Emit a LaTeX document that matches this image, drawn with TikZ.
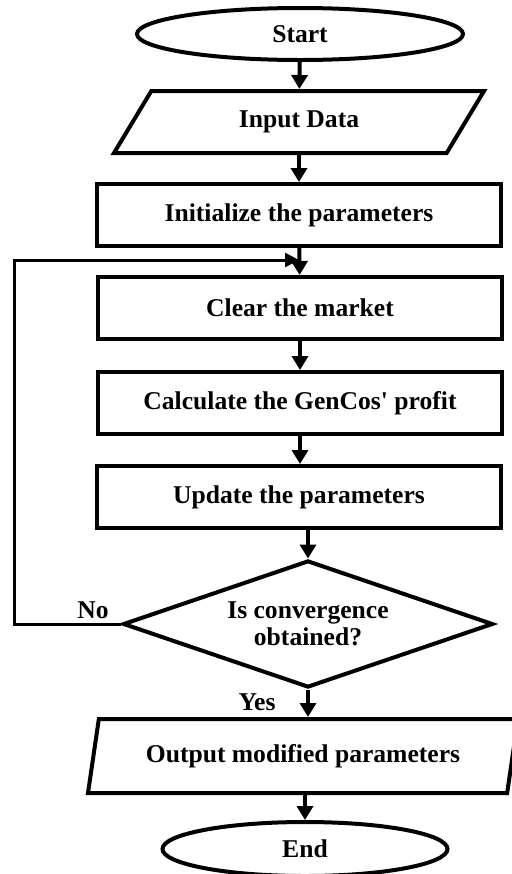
\documentclass[tikz,border=0pt]{standalone}
\usepackage{fontspec}
\setmainfont{Liberation Serif}
\usetikzlibrary{arrows.meta,shapes.geometric}

\begin{document}
\begin{tikzpicture}[x=0.5pt, y=-0.5pt,
  every node/.style={font=\fontsize{12.8}{13.5}\selectfont\bfseries},
  caja/.style={draw, line width=2pt, minimum width=202pt, minimum height=31pt, inner sep=2pt},
  terminal/.style={draw, ellipse, line width=2pt, inner sep=0pt},
  datos/.style={draw, trapezium, trapezium stretches body, line width=2pt, inner sep=2pt},
  decision/.style={draw, diamond, aspect=2.9, line width=2pt, inner sep=0pt, align=center,
                   minimum width=185pt, minimum height=63.5pt},
  flecha/.style={-{Triangle[length=7pt, width=8pt]}, line width=2pt},
  retorno/.style={-{Triangle[length=7pt, width=7pt]}, line width=1.5pt},
  etiqueta/.style={inner sep=0pt}]
  \useasboundingbox (0,0) rectangle (511,874);
  \node[terminal, minimum width=163pt, minimum height=26pt] (start) at (300,34) {Start};
  \node[datos, trapezium left angle=39, trapezium right angle=141,
        minimum width=185pt, minimum height=31pt] (input) at (299,122) {Input Data};
  \node[caja]     (init)   at (299,215) {Initialize the parameters};
  \node[caja]     (clear)  at (300,308) {Clear the market};
  \node[caja]     (calc)   at (300,403) {Calculate the GenCos\textquotesingle{} profit};
  \node[caja]     (update) at (299,497) {Update the parameters};
  \node[decision] (dec)    at (308,624) {Is convergence\\obtained?};
  \node[datos, trapezium left angle=71, trapezium right angle=109,
        minimum width=215pt, minimum height=37pt] (out) at (303,756) {Output modified parameters};
  \node[terminal, minimum width=142.5pt, minimum height=27pt] (fin) at (305,849) {End};
  \node[etiqueta] (no)  at (93,610)  {No};
  \node[etiqueta] (yes) at (257,702) {Yes};
  \coordinate (merge) at (299,260);
  \draw[flecha] (start) -- (input);
  \draw[flecha] (input.south -| init.north) -- (init.north);
  \draw[flecha] (init) -- (clear);
  \draw[flecha] (clear) -- (calc);
  \draw[flecha] (calc) -- (calc.south |- update.north);
  \draw[flecha] (update.south -| dec.north) -- (dec.north);
  \draw[flecha] (dec.south) -- (dec.south |- out.north);
  \draw[flecha] (out.south -| fin.north) -- (fin.north);
  \draw[retorno] (dec.west) -- ++(-107,0) |- (merge);
\end{tikzpicture}
\end{document}
